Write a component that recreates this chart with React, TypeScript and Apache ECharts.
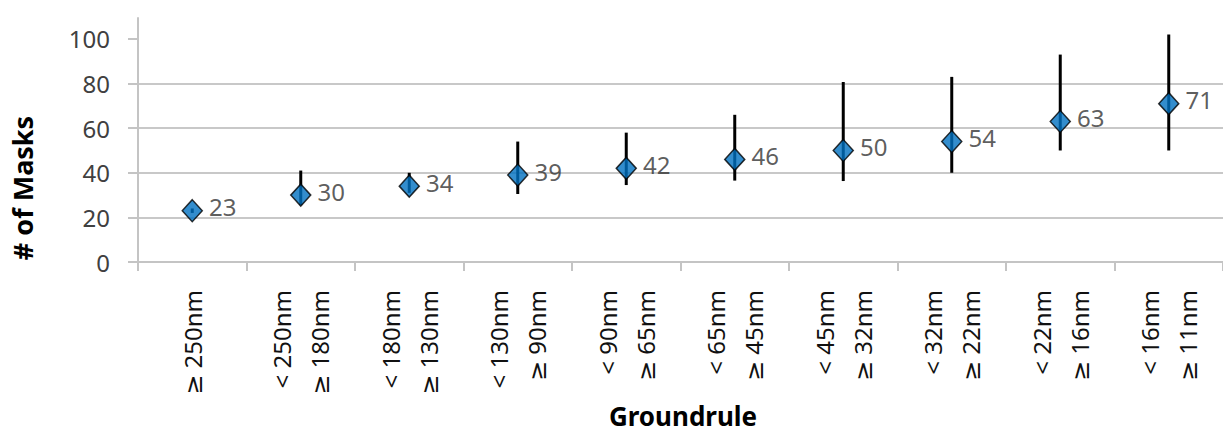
import React, { useEffect, useRef } from "react";
import * as echarts from "echarts";

const categories = [
  "≥ 250nm",
  "< 250nm\n≥ 180nm",
  "< 180nm\n≥ 130nm",
  "< 130nm\n≥ 90nm",
  "< 90nm\n≥ 65nm",
  "< 65nm\n≥ 45nm",
  "< 45nm\n≥ 32nm",
  "< 32nm\n≥ 22nm",
  "< 22nm\n≥ 16nm",
  "< 16nm\n≥ 11nm",
];
const masks = [23, 30, 34, 39, 42, 46, 50, 54, 63, 71];
const lowValues = [22, 25.5, 31, 30.5, 34.5, 36.5, 36.3, 40, 50, 50];
const highValues = [24, 41, 40, 54, 58, 66, 80.7, 83, 93, 102];
const yTicks = [0, 20, 40, 60, 80, 100];

const FONT = "'Noto Sans', 'DejaVu Sans', sans-serif";

export default function App() {
  const ref = useRef<HTMLDivElement>(null);
  useEffect(() => {
    if (!ref.current) return;
    const chart = echarts.init(ref.current, null, { renderer: "svg" });
    const errData = categories.map((_, i) => [i, lowValues[i], highValues[i]]);
    chart.setOption({
      animation: false,
      textStyle: { fontFamily: FONT },
      grid: { left: 138, right: -7, top: 18, bottom: 173, containLabel: false },
      xAxis: {
        type: "category",
        data: categories,
        axisLine: { show: true, lineStyle: { color: "#c4c4c4", width: 2 } },
        axisTick: { show: true, length: 9, lineStyle: { color: "#c4c4c4", width: 2 } },
        axisLabel: {
          interval: 0,
          rotate: 90,
          fontSize: 24,
          lineHeight: 38,
          margin: 28,
          color: "#111",
          fontFamily: FONT,
        },
        splitLine: { show: false },
      },
      yAxis: {
        type: "value",
        min: 0,
        max: 109.4,
        interval: 20,
        axisLine: { show: true, lineStyle: { color: "#c4c4c4", width: 2 } },
        axisTick: {
          show: true,
          length: 10,
          customValues: yTicks,
          lineStyle: { color: "#c4c4c4", width: 2 },
        },
        axisLabel: {
          customValues: yTicks,
          fontSize: 24,
          margin: 28,
          color: "#404040",
          fontFamily: FONT,
        },
        splitLine: { show: true, showMaxLine: false, lineStyle: { color: "#c8c8c8", width: 2 } },
      },
      graphic: [
        {
          type: "text",
          x: 22,
          y: 188,
          rotation: Math.PI / 2,
          style: {
            text: "# of Masks",
            font: `bold 27px ${FONT}`,
            fill: "#000",
            textAlign: "center",
            textVerticalAlign: "middle",
          },
        },
        {
          type: "text",
          x: 683,
          y: 416,
          style: {
            text: "Groundrule",
            font: `bold 26px ${FONT}`,
            fill: "#000",
            textAlign: "center",
            textVerticalAlign: "middle",
          },
        },
      ],
      series: [
        {
          type: "custom",
          z: 2,
          data: errData,
          encode: { x: 0, y: [1, 2] },
          renderItem: (params: any, api: any) => {
            const x = api.value(0);
            const lo = api.coord([x, api.value(1)]);
            const hi = api.coord([x, api.value(2)]);
            return {
              type: "line",
              shape: { x1: lo[0], y1: lo[1], x2: hi[0], y2: hi[1] },
              style: { stroke: "#000", lineWidth: 3 },
            };
          },
        },
        {
          type: "scatter",
          z: 3,
          data: masks,
          symbol: "diamond",
          symbolSize: [20, 22],
          itemStyle: { color: "#0070C0", borderColor: "#000", borderWidth: 1.5 },
          label: {
            show: true,
            position: "right",
            distance: 6,
            offset: [0, -4],
            fontSize: 24,
            color: "#333",
            fontFamily: FONT,
            formatter: (p: any) => String(p.value),
          },
        },
      ],
    });
    return () => chart.dispose();
  }, []);
  return <div ref={ref} style={{ width: 1223, height: 435, position: "absolute", left: 0, top: 0 }} />;
}
